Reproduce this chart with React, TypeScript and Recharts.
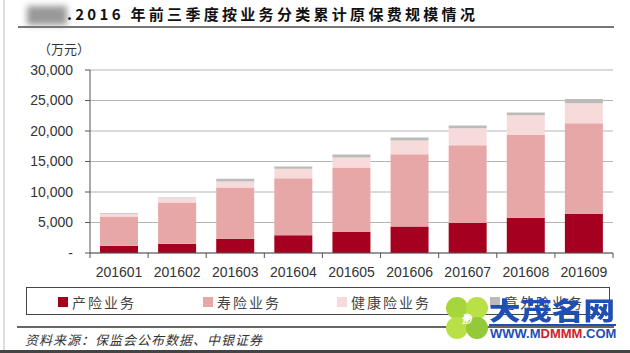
import React from 'react';
import { BarChart, Bar, XAxis, YAxis, CartesianGrid } from 'recharts';

// 月份（累计）
const months = ['201601', '201602', '201603', '201604', '201605', '201606', '201607', '201608', '201609'];

// 各业务累计原保费（万元）
const chanxian = [1200, 1530, 2350, 2900, 3440, 4360, 4900, 5780, 6380];
const shouxian = [4800, 6760, 8400, 9370, 10580, 11840, 12770, 13580, 14890];
const jiankang = [380, 710, 980, 1530, 1630, 2240, 2780, 3220, 3280];
const yiwai = [120, 100, 430, 380, 500, 490, 440, 440, 700];

const yTicks = [0, 5000, 10000, 15000, 20000, 25000, 30000];

const series = [
  { key: 'chanxian', name: '产险业务', color: '#a5001f', values: chanxian },
  { key: 'shouxian', name: '寿险业务', color: '#e8a7a7', values: shouxian },
  { key: 'jiankang', name: '健康险业务', color: '#f7dada', values: jiankang },
  { key: 'yiwai', name: '意外险业务', color: '#bdbaba', values: yiwai },
];

const data = months.map((m, i) => {
  const row: Record<string, string | number> = { month: m };
  series.forEach((s) => {
    row[s.key] = s.values[i];
  });
  return row;
});

const CN = '"Noto Sans CJK SC", sans-serif';
const LATIN = '"Liberation Sans", Arial, sans-serif';

const W = 630;
const H = 353;
const PLOT_LEFT = 90;
const PLOT_RIGHT = 17;
const step = (W - PLOT_LEFT - PLOT_RIGHT) / months.length;

const MonthTick = (props: any) => {
  const { x, y, payload, index } = props;
  return (
    <g>
      <line x1={x - step / 2} y1={y} x2={x - step / 2} y2={y + 5} stroke="#555" />
      {index === months.length - 1 && (
        <line x1={x + step / 2} y1={y} x2={x + step / 2} y2={y + 5} stroke="#555" />
      )}
      <text x={x} y={y + 24} textAnchor="middle" fontSize={14} fill="#333" fontFamily={LATIN}>
        {payload.value}
      </text>
    </g>
  );
};

const App: React.FC = () => {
  return (
    <div style={{ position: 'absolute', left: 0, top: 0, width: W, height: H, background: '#fff', overflow: 'hidden' }}>
      {/* 边框 */}
      <div style={{ position: 'absolute', left: 3, top: 0, width: 2, height: H, background: '#ddd' }} />
      <div style={{ position: 'absolute', left: 0, top: 350, width: W, height: 3, background: '#444' }} />

      {/* 标题 */}
      <div style={{ position: 'absolute', left: 27, top: 6, width: 40, height: 19, background: '#999', filter: 'blur(3px)' }} />
      <div
        style={{
          position: 'absolute',
          left: 67,
          top: 3,
          fontFamily: CN,
          fontWeight: 700,
          fontSize: 15,
          letterSpacing: 3.3,
          color: '#111',
          whiteSpace: 'nowrap',
        }}
      >
        .2016 年前三季度按业务分类累计原保费规模情况
      </div>
      <div style={{ position: 'absolute', left: 18, top: 26, width: 596, height: 2, background: '#777' }} />

      <div style={{ position: 'absolute', left: 38, top: 39, fontFamily: CN, fontSize: 13, color: '#333' }}>（万元）</div>

      <BarChart
        width={W}
        height={H}
        data={data}
        margin={{ top: 70, right: PLOT_RIGHT, bottom: 70, left: 0 }}
        style={{ position: 'absolute', left: 0, top: 0 }}
      >
        <CartesianGrid vertical={false} stroke="#b5b5b5" />
        <YAxis
          width={PLOT_LEFT}
          domain={[0, 30000]}
          ticks={yTicks}
          tickSize={5}
          tickMargin={12}
          stroke="#555"
          tick={{ fill: '#333', fontSize: 14, fontFamily: LATIN }}
          tickFormatter={(v: number) => (v === 0 ? '-' : v.toLocaleString('en-US'))}
        />
        <XAxis
          dataKey="month"
          height={30}
          stroke="#555"
          tickLine={false}
          tickSize={0}
          tickMargin={0}
          tick={<MonthTick />}
          interval={0}
        />
        {series.map((s) => (
          <Bar key={s.key} dataKey={s.key} name={s.name} stackId="a" fill={s.color} barSize={38} isAnimationActive={false} />
        ))}
      </BarChart>

      {/* 图例 */}
      <div
        style={{
          position: 'absolute',
          left: 26,
          top: 287,
          width: 584,
          height: 28,
          border: '1.5px solid #444',
          boxSizing: 'border-box',
        }}
      >
        {series.map((s, i) => (
          <div
            key={s.key}
            style={{
              position: 'absolute',
              left: [31, 176, 310, 463][i],
              top: 4,
              display: 'flex',
              alignItems: 'center',
              fontFamily: CN,
              fontSize: 14,
              letterSpacing: 2,
              color: '#444',
              whiteSpace: 'nowrap',
            }}
          >
            <span style={{ display: 'inline-block', width: 10, height: 10, background: s.color, marginRight: 4 }} />
            {s.name}
          </div>
        ))}
      </div>

      <div style={{ position: 'absolute', left: 17, top: 326, width: 597, height: 2, background: '#666' }} />
      <div
        style={{
          position: 'absolute',
          left: 25,
          top: 330,
          fontFamily: CN,
          fontStyle: 'italic',
          fontSize: 13,
          letterSpacing: 1,
          color: '#333',
          whiteSpace: 'nowrap',
        }}
      >
        资料来源：保监会公布数据、中银证券
      </div>

      {/* 水印 */}
      <svg width={44} height={44} style={{ position: 'absolute', left: 445, top: 296 }}>
        <circle cx={12} cy={12} r={11} fill="#a6d63c" />
        <circle cx={32} cy={12} r={11} fill="#b9e046" />
        <circle cx={12} cy={32} r={11} fill="#b9e046" />
        <circle cx={32} cy={32} r={11} fill="#94c93a" />
        <text x={22} y={28} textAnchor="middle" fontSize={14} fontStyle="italic" fill="#fff" fontFamily="serif">D</text>
      </svg>
      <div
        style={{
          position: 'absolute',
          left: 489,
          top: 297,
          fontFamily: CN,
          fontWeight: 900,
          fontSize: 25,
          lineHeight: 1,
          color: '#1f4fb5',
          whiteSpace: 'nowrap',
          transform: 'scaleX(1.26)',
          transformOrigin: 'left top',
        }}
      >
        大茂名网
      </div>
      <div style={{ position: 'absolute', left: 489, top: 324, width: 127, height: 2, background: '#1f4fb5' }} />
      <div
        style={{
          position: 'absolute',
          left: 490,
          top: 327,
          fontFamily: LATIN,
          fontWeight: 700,
          fontSize: 13,
          lineHeight: 1,
          color: '#1f4fb5',
          whiteSpace: 'nowrap',
        }}
      >
        WWW.M<span style={{ color: '#d0202a' }}>DMMM</span>.COM
      </div>
    </div>
  );
};

export default App;
